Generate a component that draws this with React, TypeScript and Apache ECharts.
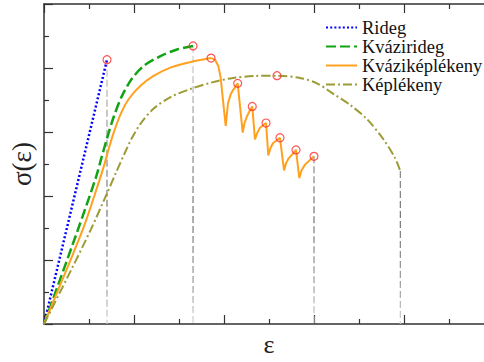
import { useEffect, useRef } from "react";
import * as echarts from "echarts";

// Stress–strain curves (strain ε on x, stress σ on y), arbitrary units
const seriesNames = ["Rideg", "Kvázirideg", "Kváziképlékeny", "Képlékeny"];
const seriesColors = ["#0000ff", "#12a312", "#ffa11e", "#9c9c36"];

const ridegData = [
  [0, 0],
  [0.7, 8.26],
];

const kvaziridegData = [
  [0, 0],
  [0.367, 2.87],
  [0.578, 4.59],
  [0.639, 5.2],
  [0.7, 5.8],
  [0.778, 6.5],
  [0.867, 7.13],
  [0.978, 7.67],
  [1.111, 8.07],
  [1.3, 8.38],
  [1.478, 8.58],
  [1.656, 8.69],
];

// hardening branch up to the maximum stress
const kvazikeplekenyRise = [
  [0, 0],
  [0.289, 1.96],
  [0.444, 3.05],
  [0.589, 4.26],
  [0.667, 4.95],
  [0.722, 5.5],
  [0.778, 6.01],
  [0.856, 6.59],
  [0.944, 7.04],
  [1.078, 7.46],
  [1.222, 7.76],
  [1.411, 8.02],
  [1.633, 8.19],
  [1.856, 8.31],
];

// serrated softening branch after the maximum
const kvazikeplekenyServ = [
  [1.856, 8.31],
  [1.9, 8.26],
  [1.937, 8.06],
  [1.963, 7.7],
  [1.992, 6.9],
  [2.019, 6.19],
  [2.044, 6.89],
  [2.072, 7.16],
  [2.1, 7.31],
  [2.152, 7.52],
  [2.208, 5.98],
  [2.228, 6.28],
  [2.252, 6.47],
  [2.283, 6.65],
  [2.314, 6.8],
  [2.344, 5.77],
  [2.37, 5.98],
  [2.4, 6.13],
  [2.467, 6.28],
  [2.492, 5.27],
  [2.517, 5.5],
  [2.544, 5.65],
  [2.622, 5.82],
  [2.667, 4.8],
  [2.689, 5.02],
  [2.717, 5.17],
  [2.8, 5.44],
  [2.837, 4.56],
  [2.861, 4.8],
  [2.9, 4.98],
  [3.0, 5.24],
];

const keplekenyData = [
  [0, 0],
  [0.3, 1.68],
  [0.52, 2.95],
  [0.703, 4.1],
  [0.8, 4.73],
  [0.9, 5.36],
  [0.967, 5.76],
  [1.078, 6.28],
  [1.222, 6.74],
  [1.411, 7.1],
  [1.633, 7.35],
  [1.867, 7.55],
  [2.1, 7.69],
  [2.344, 7.75],
  [2.589, 7.76],
  [2.844, 7.69],
  [3.033, 7.52],
  [3.211, 7.2],
  [3.4, 6.85],
  [3.589, 6.4],
  [3.767, 5.79],
  [3.9, 5.19],
  [3.959, 4.78],
];

// Marked peaks / fracture points
const peakPoints = [
  [0.7, 8.26],
  [1.656, 8.69],
  [1.856, 8.31],
  [2.152, 7.52],
  [2.314, 6.8],
  [2.467, 6.28],
  [2.622, 5.82],
  [2.8, 5.44],
  [3.0, 5.24],
  [2.589, 7.76],
];

// end points of each curve (fracture), used for the vertical guides
const curveEnds = [ridegData, kvaziridegData, kvazikeplekenyServ, keplekenyData].map(
  (c) => c[c.length - 1]
);

const lineTypes: (number[] | string)[] = [[2, 2.2], [10, 4], "solid", [9, 3, 2, 3]];
const lineWidths = [2.5, 2.5, 2, 2];

export default function App() {
  const ref = useRef<HTMLDivElement>(null);

  useEffect(() => {
    if (!ref.current) return;
    const chart = echarts.init(ref.current, undefined, { renderer: "svg" });

    const axisCommon = {
      type: "value" as const,
      axisLine: { show: true, onZero: false, lineStyle: { color: "#333", width: 1.5 } },
      axisTick: { show: true, inside: true, length: 9, lineStyle: { color: "#333", width: 1.2 } },
      minorTick: { show: true, splitNumber: 2, length: 5, lineStyle: { color: "#333", width: 1.2 } },
      axisLabel: { show: false },
      splitLine: { show: false },
      minorSplitLine: { show: false },
    };

    const dropGradient = new echarts.graphic.LinearGradient(
      0,
      40,
      0,
      335,
      [
        { offset: 0, color: "#d8d8d8" },
        { offset: 0.25, color: "#999" },
        { offset: 0.6, color: "#666" },
        { offset: 0.85, color: "#999" },
        { offset: 1, color: "#e4e4e4" },
      ],
      true
    );

    const dropSeries = curveEnds.map((p) => ({
      type: "line",
      data: [
        [p[0], p[1]],
        [p[0], 0],
      ],
      symbol: "none",
      silent: true,
      z: 1,
      lineStyle: { color: dropGradient, width: 1.1, type: [7, 3] },
    }));

    const mkLine = (i: number, data: number[][], smooth: number | boolean) => ({
      name: seriesNames[i],
      type: "line",
      data,
      symbol: "none",
      showSymbol: false,
      smooth,
      z: 3,
      color: seriesColors[i],
      lineStyle: { color: seriesColors[i], width: lineWidths[i], type: lineTypes[i], cap: "butt" },
    });

    chart.setOption({
      animation: false,
      backgroundColor: "#fff",
      grid: { left: 44, top: 4, width: 450, height: 331 },
      legend: {
        orient: "vertical",
        left: 325,
        top: 18,
        padding: 0,
        itemGap: 0,
        itemWidth: 31,
        itemHeight: 14,
        data: seriesNames,
        itemStyle: { opacity: 0 },
        textStyle: {
          fontFamily: "Liberation Serif",
          fontSize: 18.5,
          lineHeight: 19,
          color: "#111",
        },
      },
      xAxis: [
        {
          ...axisCommon,
          min: 0,
          max: 5,
          interval: 1,
          position: "bottom",
          name: "ε",
          nameLocation: "middle",
          nameGap: 7,
          nameTextStyle: { fontFamily: "Liberation Serif", fontSize: 26, color: "#222" },
        },
        { ...axisCommon, min: 0, max: 5, interval: 1, position: "top" },
      ],
      yAxis: [
        {
          ...axisCommon,
          min: 0,
          max: 10,
          interval: 2,
          position: "left",
          name: "σ(ε)",
          nameLocation: "middle",
          nameGap: 9,
          nameTextStyle: { fontFamily: "Liberation Serif", fontSize: 27, color: "#222" },
        },
        { ...axisCommon, min: 0, max: 10, interval: 2, position: "right" },
      ],
      series: [
        ...dropSeries,
        mkLine(0, ridegData, false),
        mkLine(1, kvaziridegData, 0.3),
        mkLine(2, kvazikeplekenyRise, 0.3),
        mkLine(2, kvazikeplekenyServ, false),
        mkLine(3, keplekenyData, 0.3),
        {
          type: "scatter",
          data: peakPoints,
          symbol: "circle",
          symbolSize: 8,
          z: 5,
          silent: true,
          itemStyle: { color: "rgba(0,0,0,0)", borderColor: "#ff2a2a", borderWidth: 1.2 },
        },
      ],
    });

    return () => chart.dispose();
  }, []);

  return (
    <div
      style={{
        position: "fixed",
        left: 0,
        top: 0,
        width: 484,
        height: 362,
        overflow: "hidden",
        background: "#fff",
      }}
    >
      <div ref={ref} style={{ width: 500, height: 362 }} />
    </div>
  );
}
